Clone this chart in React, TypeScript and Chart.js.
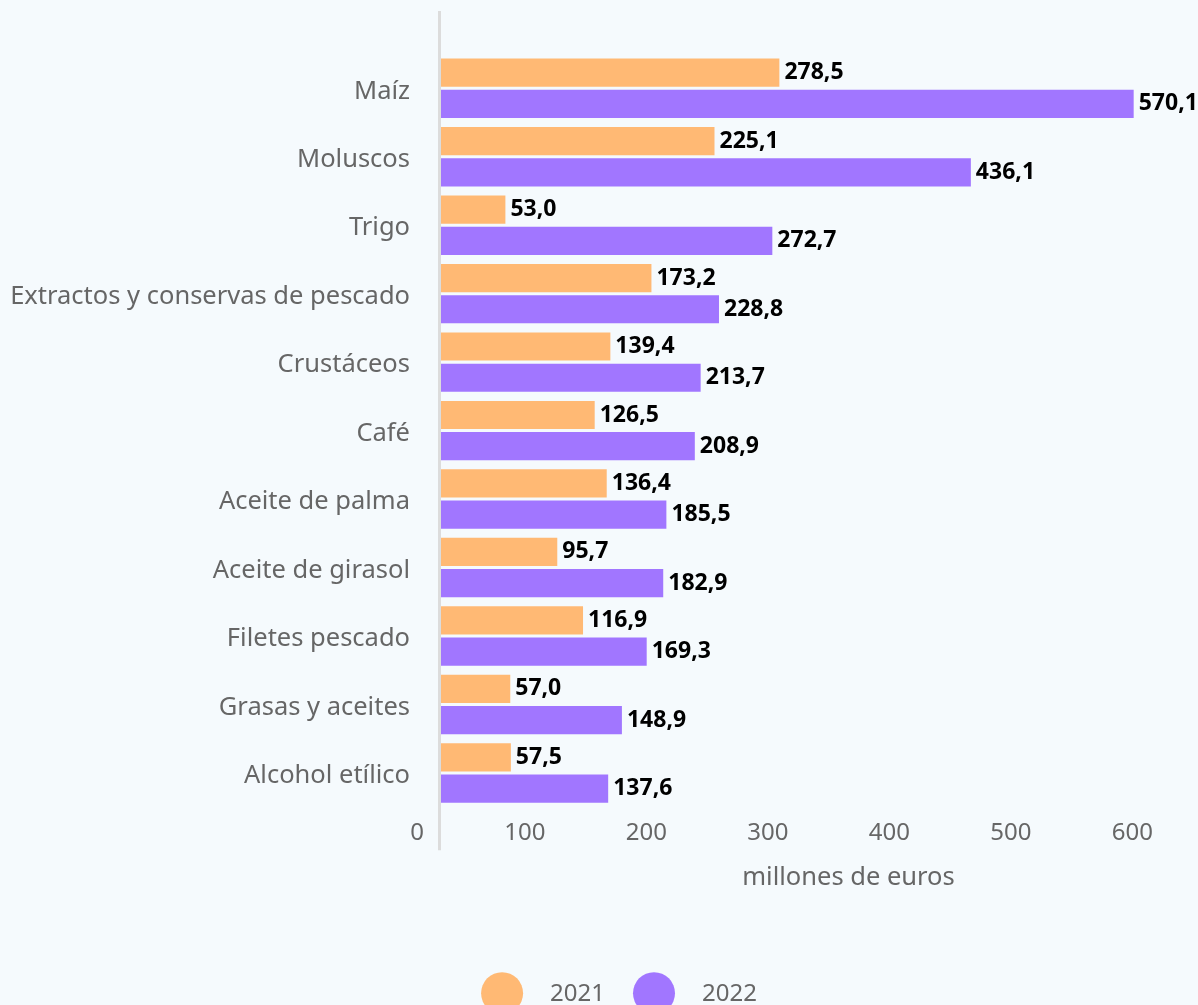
import React, { useEffect, useRef } from "react";
import { Chart, registerables } from "chart.js";

Chart.register(...registerables);

const categories = [
  "Maíz",
  "Moluscos",
  "Trigo",
  "Extractos y conservas de pescado",
  "Crustáceos",
  "Café",
  "Aceite de palma",
  "Aceite de girasol",
  "Filetes pescado",
  "Grasas y aceites",
  "Alcohol etílico",
];
const values2021 = [278.5, 225.1, 53.0, 173.2, 139.4, 126.5, 136.4, 95.7, 116.9, 57.0, 57.5];
const values2022 = [570.1, 436.1, 272.7, 228.8, 213.7, 208.9, 185.5, 182.9, 169.3, 148.9, 137.6];
const seriesLabels = ["2021", "2022"];
const seriesColors = ["#FFB974", "#A176FF"];
const xMin = 0;
const xMax = 600;
const xStep = 100;
const axisTitle = "millones de euros";

const FONT = "'Noto Sans', sans-serif";
const GRAY = "#666666";
const BG = "#F5FAFD";

const fmt = (v: number) => v.toFixed(1).replace(".", ",");

const decorPlugin = {
  id: "decor",
  beforeDraw(chart: any) {
    const { ctx, width, height } = chart;
    ctx.save();
    ctx.fillStyle = BG;
    ctx.fillRect(0, 0, width, height);
    ctx.restore();
  },
  afterDatasetsDraw(chart: any) {
    const { ctx, chartArea } = chart;
    ctx.save();
    // y axis line extending beyond chart area
    ctx.strokeStyle = "#DCDCDC";
    ctx.lineWidth = 3;
    ctx.beginPath();
    ctx.moveTo(chartArea.left - 1.5, chartArea.top - 43);
    ctx.lineTo(chartArea.left - 1.5, chartArea.bottom + 43);
    ctx.stroke();

    // value labels
    ctx.font = `bold 23px ${FONT}`;
    ctx.fillStyle = "#000000";
    ctx.textAlign = "left";
    ctx.textBaseline = "middle";
    chart.data.datasets.forEach((ds: any, di: number) => {
      const meta = chart.getDatasetMeta(di);
      meta.data.forEach((bar: any, i: number) => {
        ctx.fillText(fmt(ds.data[i]), bar.x + 5, bar.y);
      });
    });
    ctx.restore();
  },
  afterDraw(chart: any) {
    const { ctx, chartArea } = chart;
    ctx.save();
    // axis title
    ctx.font = `25.5px ${FONT}`;
    ctx.fillStyle = GRAY;
    ctx.textAlign = "center";
    ctx.textBaseline = "middle";
    ctx.fillText(axisTitle, (chartArea.left + chartArea.right) / 2 + 43, chartArea.bottom + 71);

    // legend
    ctx.font = `24px ${FONT}`;
    const r = 21;
    const cy = chartArea.bottom + 186;
    ctx.textAlign = "left";
    const items = chart.data.datasets.map((ds: any) => ({
      label: ds.label,
      color: ds.backgroundColor,
      w: ctx.measureText(ds.label).width,
    }));
    const gapText = 27;
    const gapItem = 28;
    let total = 0;
    items.forEach((it: any, i: number) => {
      total += 2 * r + gapText + it.w + (i < items.length - 1 ? gapItem : 0);
    });
    let x = 619 - total / 2;
    items.forEach((it: any) => {
      ctx.fillStyle = it.color;
      ctx.beginPath();
      ctx.arc(x + r, cy, r, 0, Math.PI * 2);
      ctx.fill();
      ctx.fillStyle = GRAY;
      ctx.fillText(it.label, x + 2 * r + gapText, cy + 1);
      x += 2 * r + gapText + it.w + gapItem;
    });
    ctx.restore();
  },
};

export default function App() {
  const canvasRef = useRef<HTMLCanvasElement | null>(null);

  useEffect(() => {
    document.body.style.margin = "0";
    document.body.style.background = BG;
    const canvas = canvasRef.current;
    if (!canvas) return;
    const chart = new Chart(canvas, {
      type: "bar",
      data: {
        labels: categories,
        datasets: [
          {
            label: seriesLabels[0],
            data: values2021,
            backgroundColor: seriesColors[0],
            categoryPercentage: 0.912,
            barPercentage: 0.903,
          },
          {
            label: seriesLabels[1],
            data: values2022,
            backgroundColor: seriesColors[1],
            categoryPercentage: 0.912,
            barPercentage: 0.903,
          },
        ],
      },
      options: {
        indexAxis: "y",
        animation: false,
        responsive: false,
        layout: { padding: { top: 54, bottom: 145, left: 0, right: 28 } },
        plugins: {
          legend: { display: false },
          tooltip: { enabled: false },
        },
        scales: {
          x: {
            min: xMin,
            max: xMax,
            grid: { display: false, drawTicks: false },
            border: { display: false },
            ticks: {
              stepSize: xStep,
              align: "end",
              labelOffset: -17,
              padding: 12,
              color: GRAY,
              font: { family: FONT, size: 24 },
            },
          },
          y: {
            grid: { display: false, drawTicks: false },
            border: { display: false },
            afterFit: (scale: any) => {
              scale.width = 441;
            },
            ticks: {
              padding: 31,
              labelOffset: 3,
              color: GRAY,
              font: { family: FONT, size: 25.5 },
            },
          },
        },
      },
      plugins: [decorPlugin],
    } as any);
    return () => chart.destroy();
  }, []);

  return (
    <div style={{ width: 1198, height: 1005, background: BG }}>
      <canvas ref={canvasRef} width={1198} height={1005} style={{ display: "block" }} />
    </div>
  );
}
